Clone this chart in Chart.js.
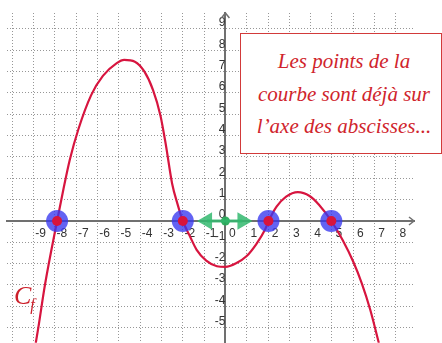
<!DOCTYPE html>
<html>
<head>
<meta charset="utf-8">
<script src="https://cdn.jsdelivr.net/npm/chart.js@4/dist/chart.umd.min.js"></script>
<style>
  body { margin: 0; background: #fff; }
  #wrap { position: relative; width: 442px; height: 343px; overflow: hidden; }
  #graph { position: absolute; left: -4px; top: 0; }
  #note {
    position: absolute; left: 240px; top: 33px; width: 202px; height: 121px;
    box-sizing: border-box; border: 1.5px solid #d23a3a; background: #fff;
    color: #d0242c; font: italic 21px "Liberation Serif", serif;
    text-align: center; line-height: 32.5px; padding: 11px 0 0 6px;
  }
  #cf {
    position: absolute; left: 14px; top: 281px; color: #cc1f2a;
    font: italic 26px "Liberation Serif", serif;
  }
  #cf sub { font-size: 16px; vertical-align: -6px; margin-left: -1px; }
</style>
</head>
<body>
<div id="wrap">
  <canvas id="graph" width="446" height="354"></canvas>
  <div id="note">Les points de la<br>courbe sont déjà sur<br>l’axe des abscisses...</div>
  <div id="cf">C<sub>f</sub></div>
</div>
<script>
// curve
var curveX = [-8.9, -8.78, -8.47, -7.9, -7.6, -7.3, -6.9, -6.3, -5.75, -5.1, -4.75, -4.25, -3.8, -3.4, -3.05, -2.8, -2.5, -2.25, -2.0, -1.65, -1.35, -0.9, -0.4, 0, 0.5, 1.0, 1.45, 1.85, 2.03, 2.4, 2.85, 3.4, 3.95, 4.4, 4.97, 5.5, 6.0, 6.4, 6.8, 7.2];
var curveY = [-5.72, -5.0, -3.0, 0, 1.5, 2.88, 4.3, 5.9, 6.8, 7.4, 7.55, 7.47, 7.0, 6.15, 4.95, 3.6, 1.75, 0.8, 0, -0.75, -1.35, -1.86, -2.12, -2.15, -1.98, -1.64, -1.08, -0.42, 0, 0.67, 1.14, 1.35, 1.17, 0.75, 0, -0.89, -1.91, -2.92, -4.17, -5.72];

// zeros of the function
var rootsX = [-7.9, -2, 2.02, 4.97];
var rootsY = [0, 0, 0, 0];

// green double arrow around the origin
var arrowX = [-0.86, 0.8];
var arrowY = [0, 0];
var arrowRot = [-90, 90];
var dotX = [0];
var dotY = [0];

var xMin = -10.25, xMax = 8.85;
var yMin = -5.71, yMax = 9.75;
var xLabels = [-9, -8, -7, -6, -5, -4, -3, -2, -1, 0, 1, 2, 3, 4, 5, 6, 7, 8];
var yLabels = [-5, -4, -3, -2, -1, 0, 1, 2, 3, 4, 5, 6, 7, 8, 9];

function pts(xs, ys) {
  return xs.map(function(x, i) { return {x: x, y: ys[i]}; });
}

// little chevrons at the end of both axes
var axisArrows = {
  id: 'axisArrows',
  afterDraw: function(chart) {
    var ctx = chart.ctx, a = chart.chartArea;
    var x0 = chart.scales.x.getPixelForValue(0);
    var y0 = chart.scales.y.getPixelForValue(0);
    ctx.save();
    ctx.strokeStyle = '#707070';
    ctx.lineWidth = 1.5;
    ctx.beginPath();
    ctx.moveTo(a.right - 5, y0 - 4); ctx.lineTo(a.right, y0); ctx.lineTo(a.right - 5, y0 + 4);
    ctx.moveTo(x0 - 4, a.top + 5); ctx.lineTo(x0, a.top); ctx.lineTo(x0 + 4, a.top + 5);
    ctx.stroke();
    ctx.restore();
  }
};

var gridStyle = {
  color: 'rgba(140,140,140,0.9)',
  lineWidth: 1,
  drawTicks: false
};

new Chart(document.getElementById('graph').getContext('2d'), {
  type: 'scatter',
  data: {
    datasets: [{
      label: 'f',
      type: 'line',
      data: pts(curveX, curveY),
      borderColor: '#d7153f',
      borderWidth: 2.2,
      pointRadius: 0,
      cubicInterpolationMode: 'monotone',
      fill: false,
      order: 3
    }, {
      label: 'zéros',
      data: pts(rootsX, rootsY),
      pointRadius: 11,
      pointBackgroundColor: 'rgba(55,55,240,0.78)',
      pointBorderWidth: 0,
      order: 2
    }, {
      label: 'points',
      data: pts(rootsX, rootsY),
      pointRadius: 5,
      pointBackgroundColor: '#d8143c',
      pointBorderWidth: 0,
      order: 1
    }, {
      label: 'flèche',
      type: 'line',
      data: pts(arrowX, arrowY),
      borderColor: 'rgba(50,185,110,0.85)',
      borderWidth: 3,
      pointStyle: 'triangle',
      pointRotation: arrowRot,
      pointRadius: 10,
      pointBackgroundColor: 'rgba(50,185,110,0.85)',
      pointBorderWidth: 0,
      order: 4
    }, {
      label: 'origine',
      data: pts(dotX, dotY),
      pointRadius: 4.5,
      pointBackgroundColor: 'rgba(40,170,90,0.95)',
      pointBorderWidth: 0,
      order: 4
    }]
  },
  options: {
    responsive: false,
    animation: false,
    layout: { padding: { left: 7, right: 28, top: 13, bottom: 0 } },
    plugins: { legend: { display: false }, tooltip: { enabled: false } },
    scales: {
      x: {
        type: 'linear',
        min: xMin, max: xMax,
        position: { y: 0 },
        grid: gridStyle,
        border: { display: true, color: '#707070', width: 2, dash: [1, 2] },
        ticks: {
          stepSize: 1,
          includeBounds: false,
          autoSkip: false,
          maxRotation: 0,
          padding: 5,
          labelOffset: 7,
          color: '#333',
          font: { family: 'Liberation Sans', size: 12 },
          callback: function(v) { return xLabels.indexOf(v) >= 0 ? String(v) : ''; }
        }
      },
      y: {
        type: 'linear',
        min: yMin, max: yMax,
        position: { x: 0 },
        grid: gridStyle,
        border: { display: true, color: '#707070', width: 2, dash: [1, 2] },
        ticks: {
          stepSize: 1,
          includeBounds: false,
          autoSkip: false,
          padding: 4,
          labelOffset: -6,
          color: '#333',
          font: { family: 'Liberation Sans', size: 12 },
          callback: function(v) { return yLabels.indexOf(v) >= 0 ? String(v) : ''; }
        }
      }
    }
  },
  plugins: [axisArrows]
});
</script>
</body>
</html>
